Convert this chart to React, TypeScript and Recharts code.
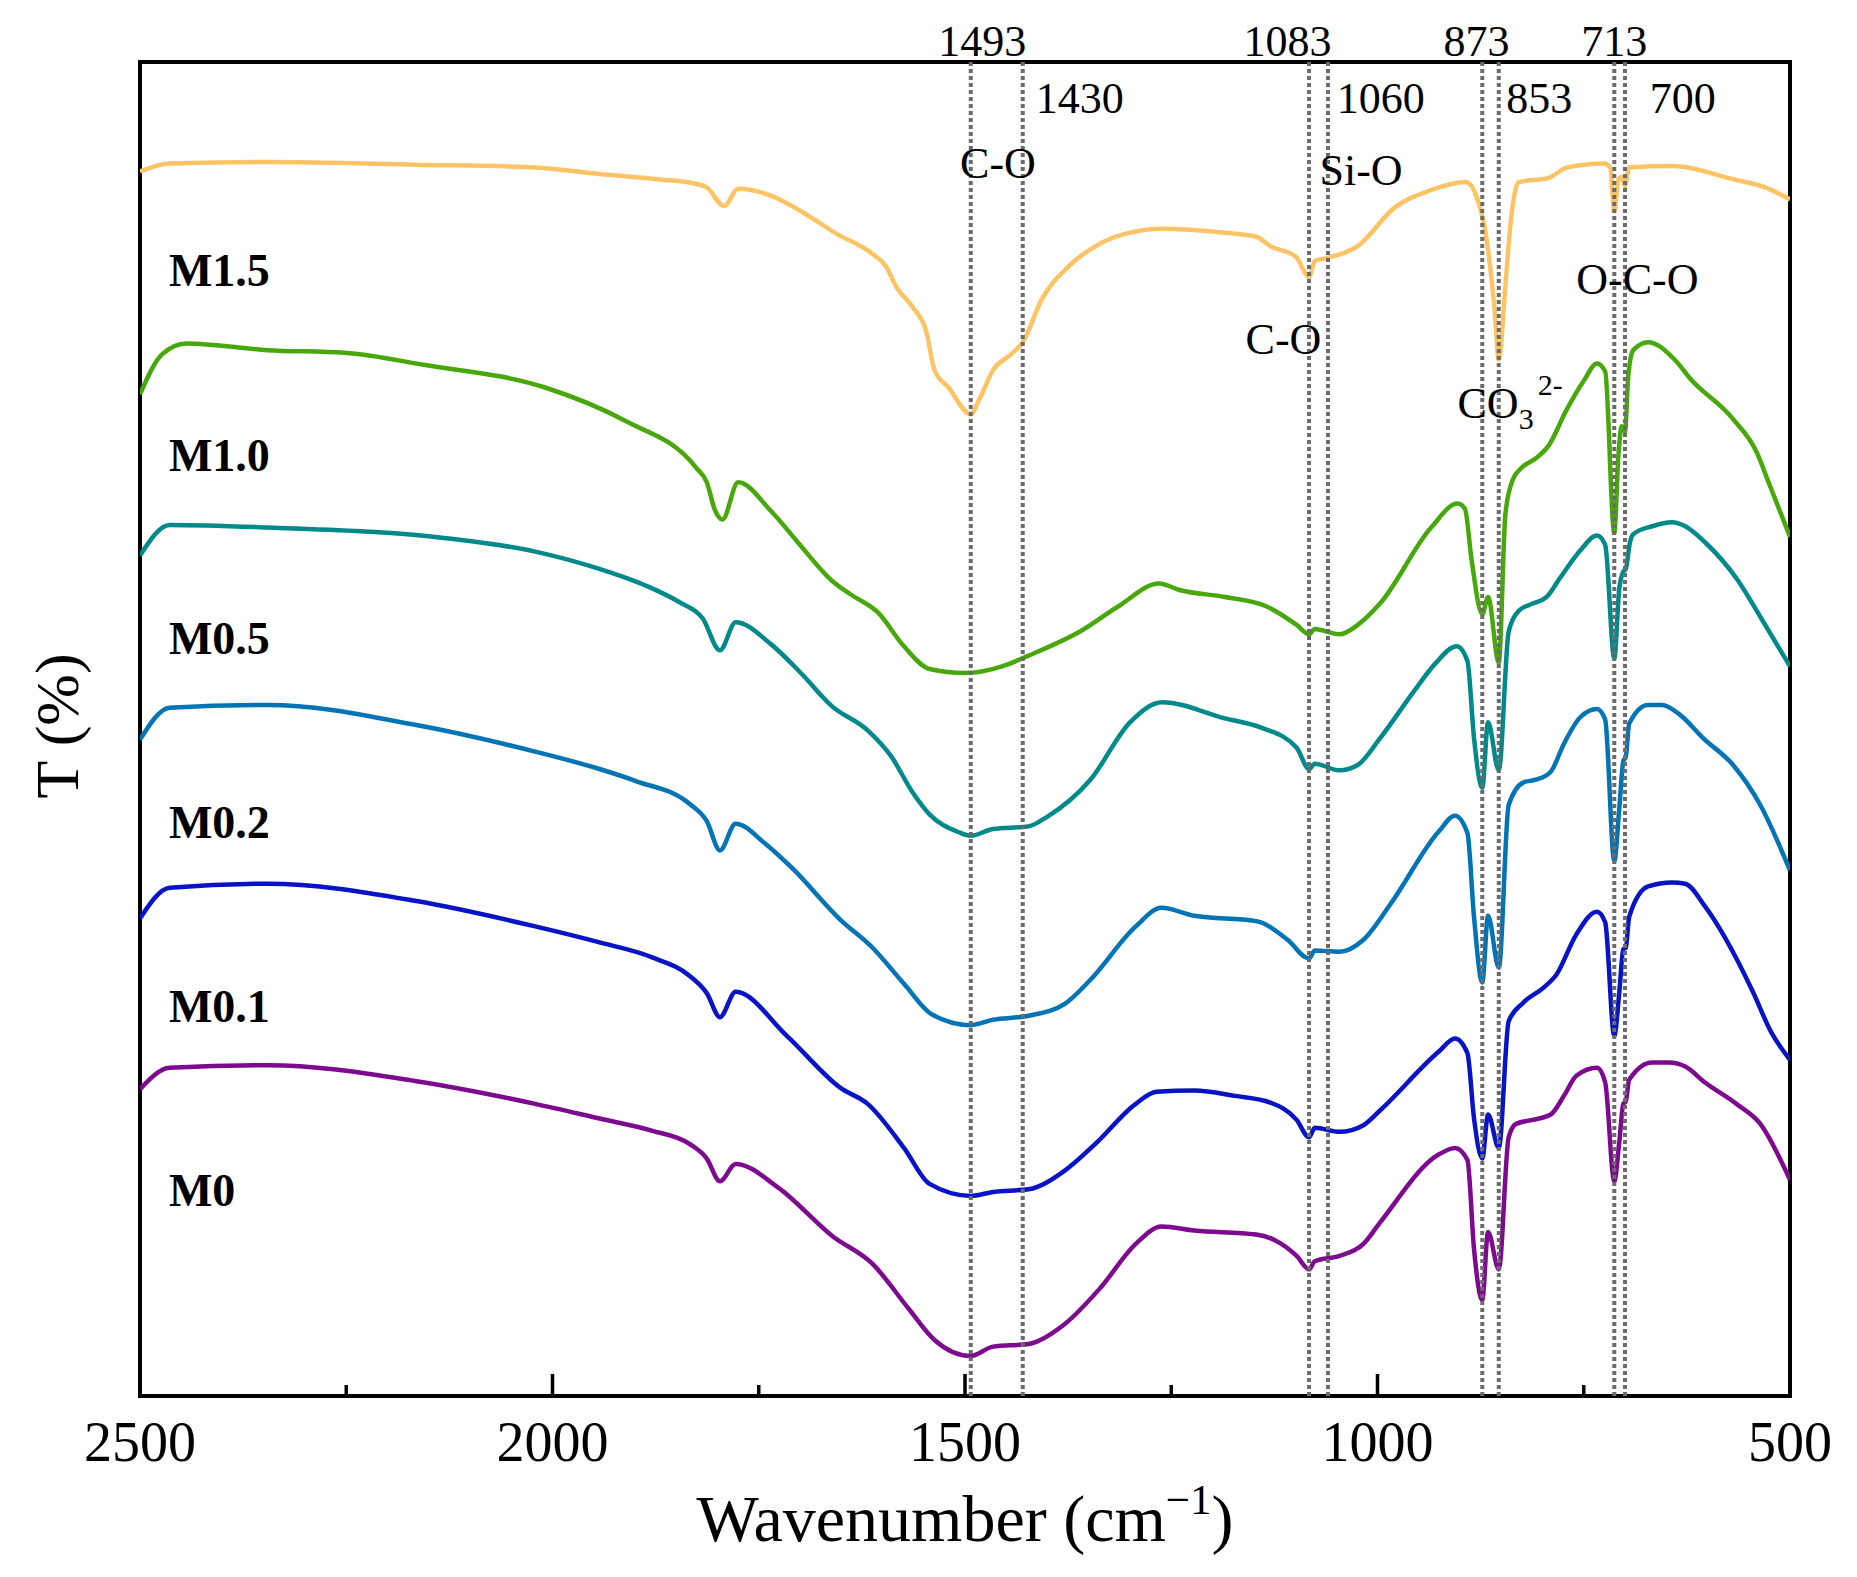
import {
  LineChart,
  Line,
  XAxis,
  YAxis,
  ReferenceLine,
  ReferenceArea,
  ReferenceDot,
} from 'recharts';

const SERIF = '"Liberation Serif", "Times New Roman", serif';

// [wavenumber (cm-1), T (%)], offsets included
const M15 = [
  [2500, 91.8], [2464, 92.4], [2345, 92.5], [2165, 92.3], [2021, 92.1], [1943, 91.6],
  [1870, 91.2], [1829, 90.9], [1813, 90.6], [1792, 89.2], [1775, 90.5], [1736, 90.0],
  [1704, 89.0], [1655, 87.1], [1612, 85.6], [1596, 84.7], [1583, 83.1], [1563, 81.6],
  [1547, 79.8], [1537, 76.9], [1520, 75.6], [1493, 73.6], [1482, 74.8], [1466, 76.9],
  [1444, 78.1], [1430, 79.0], [1407, 82.2], [1374, 84.7], [1336, 86.4], [1293, 87.3],
  [1265, 87.5], [1185, 87.2], [1147, 86.9], [1130, 86.2], [1099, 85.4], [1083, 83.9],
  [1076, 85.1], [1062, 85.3], [1024, 86.2], [979, 89.1], [935, 90.4], [893, 91.0],
  [880, 89.9], [868, 86.8], [858, 81.4], [853, 77.7], [845, 83.2], [839, 87.7],
  [829, 91.0], [793, 91.3], [770, 92.1], [725, 92.4], [718, 92.1], [713, 88.8],
  [708, 91.2], [704, 91.4], [700, 90.7], [695, 92.1], [643, 92.2], [568, 91.2],
  [530, 90.6], [500, 89.7],
];

const M10 = [
  [2500, 75.1], [2473, 78.1], [2444, 78.9], [2345, 78.4], [2252, 78.2], [2156, 77.3],
  [2009, 75.6], [1912, 73.1], [1826, 69.6], [1813, 68.5], [1803, 66.4], [1794, 65.7],
  [1775, 68.5], [1736, 66.4], [1704, 64.1], [1661, 61.1], [1639, 60.1], [1605, 58.7],
  [1574, 56.2], [1543, 54.5], [1500, 54.2], [1455, 54.7], [1423, 55.5], [1358, 57.4],
  [1314, 59.2], [1265, 60.9], [1239, 60.4], [1185, 59.9], [1135, 59.2], [1098, 57.8],
  [1083, 57.1], [1076, 57.5], [1046, 57.1], [1024, 57.8], [997, 59.4], [935, 65.1],
  [903, 66.9], [894, 66.5], [886, 62.7], [873, 58.6], [866, 59.9], [853, 55.0],
  [845, 66.1], [836, 68.7], [825, 69.6], [808, 70.3], [793, 71.2], [771, 73.9],
  [750, 76.1], [734, 77.4], [724, 76.8], [713, 64.7], [708, 70.5], [704, 72.7],
  [700, 72.3], [696, 76.5], [690, 78.4], [672, 79.0], [640, 77.7], [620, 76.2],
  [570, 73.3], [540, 70.7], [526, 68.5], [500, 64.4],
];

const M05 = [
  [2500, 63.0], [2464, 65.3], [2345, 65.1], [2129, 64.3], [2021, 63.3], [1943, 62.0],
  [1885, 60.7], [1846, 59.5], [1818, 58.3], [1797, 55.9], [1778, 58.0], [1736, 56.4],
  [1699, 54.2], [1661, 51.7], [1618, 49.9], [1590, 48.0], [1563, 45.2], [1543, 43.6],
  [1509, 42.3], [1493, 42.0], [1466, 42.5], [1423, 42.7], [1401, 43.4], [1348, 46.2],
  [1300, 50.5], [1261, 52.0], [1185, 50.8], [1141, 50.1], [1098, 48.6], [1083, 47.0],
  [1076, 47.4], [1046, 46.9], [1024, 47.3], [997, 49.3], [955, 52.9], [930, 54.9],
  [904, 56.2], [891, 55.1], [883, 49.3], [873, 45.6], [866, 50.5], [853, 46.9],
  [841, 57.3], [828, 58.9], [812, 59.4], [795, 59.9], [779, 61.3], [754, 63.4],
  [734, 64.5], [724, 63.8], [713, 55.3], [707, 60.5], [702, 61.8], [699, 62.0],
  [694, 64.0], [690, 64.6], [667, 65.2], [643, 65.5], [627, 65.2], [603, 64.0],
  [565, 61.3], [532, 58.0], [500, 54.7],
];

const M02 = [
  [2500, 49.2], [2464, 51.6], [2345, 51.8], [2165, 50.3], [2021, 48.3], [1943, 47.0],
  [1899, 46.1], [1834, 44.4], [1813, 43.1], [1797, 40.9], [1778, 42.9], [1742, 41.4],
  [1710, 39.6], [1651, 35.7], [1612, 33.6], [1574, 30.9], [1540, 28.6], [1493, 27.8],
  [1466, 28.2], [1423, 28.5], [1379, 29.4], [1348, 31.2], [1293, 35.2], [1262, 36.6],
  [1222, 36.0], [1147, 35.6], [1109, 34.2], [1083, 32.8], [1076, 33.4], [1046, 33.3],
  [1017, 34.2], [984, 36.9], [926, 42.3], [906, 43.5], [891, 42.2], [883, 35.9],
  [873, 31.0], [866, 36.0], [853, 32.1], [841, 44.3], [823, 46.0], [808, 46.2],
  [790, 46.8], [774, 48.9], [754, 50.9], [734, 51.5], [724, 50.7], [713, 40.1],
  [707, 44.0], [702, 47.6], [699, 47.9], [695, 50.4], [672, 51.8], [655, 51.8],
  [634, 51.1], [605, 49.3], [569, 47.3], [536, 44.3], [500, 39.4],
];

const M01 = [
  [2500, 35.8], [2464, 38.1], [2345, 38.4], [2165, 37.1], [2021, 35.2], [1943, 34.0],
  [1880, 32.9], [1834, 31.5], [1813, 30.2], [1797, 28.4], [1778, 30.3], [1716, 27.0],
  [1651, 23.1], [1618, 21.9], [1574, 18.6], [1543, 15.9], [1493, 15.0], [1466, 15.3],
  [1423, 15.5], [1379, 16.9], [1342, 18.9], [1293, 21.9], [1268, 22.8], [1222, 22.9],
  [1173, 22.5], [1130, 22.0], [1098, 20.7], [1083, 19.4], [1076, 20.1], [1046, 19.8],
  [1017, 20.3], [997, 21.4], [926, 25.8], [906, 26.8], [891, 25.7], [883, 20.8],
  [873, 17.8], [866, 21.1], [853, 18.6], [841, 28.1], [823, 29.5], [799, 30.6],
  [783, 31.6], [759, 34.6], [734, 36.3], [724, 35.5], [713, 27.0], [707, 30.2],
  [702, 33.5], [699, 33.6], [695, 35.9], [672, 38.2], [643, 38.5], [627, 38.4],
  [603, 36.7], [565, 32.8], [545, 30.3], [523, 27.3], [500, 25.2],
];

const M0 = [
  [2500, 23.0], [2464, 24.6], [2345, 24.8], [2165, 23.6], [2021, 21.9], [1943, 20.8],
  [1880, 19.9], [1834, 18.9], [1813, 17.8], [1797, 16.1], [1778, 17.4], [1726, 15.6],
  [1661, 12.0], [1612, 9.9], [1569, 6.6], [1537, 4.2], [1493, 3.0], [1466, 3.7],
  [1423, 3.9], [1379, 5.4], [1336, 8.1], [1293, 11.4], [1262, 12.7], [1222, 12.4],
  [1147, 12.1], [1125, 11.7], [1098, 10.5], [1083, 9.5], [1076, 10.1], [1046, 10.5],
  [1017, 11.4], [997, 13.0], [926, 18.1], [906, 18.6], [891, 17.7], [883, 11.0],
  [873, 7.2], [866, 12.3], [853, 9.5], [841, 19.4], [832, 20.4], [812, 20.7],
  [790, 21.1], [774, 22.5], [759, 24.0], [734, 24.6], [724, 23.5], [713, 16.1],
  [707, 19.0], [702, 21.9], [699, 22.1], [695, 23.7], [667, 25.0], [647, 25.0],
  [627, 24.7], [603, 23.5], [565, 21.9], [536, 20.4], [500, 16.2],
];

const SERIES = [
  { name: 'M1.5', points: M15, color: '#FDC466' },
  { name: 'M1.0', points: M10, color: '#48A80B' },
  { name: 'M0.5', points: M05, color: '#00898A' },
  { name: 'M0.2', points: M02, color: '#0074B5' },
  { name: 'M0.1', points: M01, color: '#0713C6' },
  { name: 'M0', points: M0, color: '#7D0A8E' },
];

const X_TICKS = [2500, 2250, 2000, 1750, 1500, 1250, 1000, 750, 500];
const MAJOR_TICKS = [2500, 2000, 1500, 1000, 500];

const PEAK_LINES = [1493, 1430, 1083, 1060, 873, 853, 713, 700];

// text centre positions in data units
const PEAK_LABELS = [
  { text: '1493', wn: 1479, t: 101.5 },
  { text: '1083', wn: 1109, t: 101.5 },
  { text: '873', wn: 880, t: 101.5 },
  { text: '713', wn: 713, t: 101.5 },
  { text: '1430', wn: 1361, t: 97.3 },
  { text: '1060', wn: 996, t: 97.3 },
  { text: '853', wn: 804, t: 97.3 },
  { text: '700', wn: 630, t: 97.3 },
];

const BOND_LABELS = [
  { text: 'C-O', wn: 1460, t: 92.4 },
  { text: 'Si-O', wn: 1020, t: 91.9 },
  { text: 'C-O', wn: 1114, t: 79.2 },
  { text: 'O-C-O', wn: 685, t: 83.7 },
];

const CARBONATE = { wn: 903, t: 74.4 };

const SAMPLE_LABELS = [
  { text: 'M1.5', t: 84.4 },
  { text: 'M1.0', t: 70.5 },
  { text: 'M0.5', t: 56.8 },
  { text: 'M0.2', t: 43.0 },
  { text: 'M0.1', t: 29.2 },
  { text: 'M0', t: 15.4 },
];
const SAMPLE_LABEL_WN = 2465;

function XTick(props: any) {
  const { x, y, payload } = props;
  const major = MAJOR_TICKS.includes(payload.value);
  return (
    <g>
      <line x1={x} x2={x} y1={y} y2={y - (major ? 22 : 11)} stroke="#000" strokeWidth={3.5} />
      {major && (
        <text x={x} y={y + 65} textAnchor="middle" fontSize={56} fontFamily={SERIF} fill="#000">
          {payload.value}
        </text>
      )}
    </g>
  );
}

function XTitle(props: any) {
  const vb = props.viewBox || { x: 140, y: 1396, width: 1650, height: 120 };
  return (
    <text
      x={vb.x + vb.width / 2}
      y={vb.y + 145}
      textAnchor="middle"
      fontSize={66}
      fontFamily={SERIF}
      fill="#000"
    >
      Wavenumber (cm
      <tspan dy={-27} fontSize={43}>−1</tspan>
      <tspan dy={27}>)</tspan>
    </text>
  );
}

function YTitle(props: any) {
  const vb = props.viewBox || { x: 0, y: 62, width: 140, height: 1334 };
  const cx = vb.x + 57;
  const cy = vb.y + vb.height / 2 - 3;
  return (
    <text
      x={cx}
      y={cy}
      transform={`rotate(-90 ${cx} ${cy})`}
      textAnchor="middle"
      dominantBaseline="central"
      fontSize={62}
      fontFamily={SERIF}
      fill="#000"
    >
      T (%)
    </text>
  );
}

function textShape(text: string, size: number, weight: string, anchor: string) {
  return (p: any) => (
    <text
      x={p.cx}
      y={p.cy}
      textAnchor={anchor}
      dominantBaseline="central"
      fontSize={size}
      fontWeight={weight}
      fontFamily={SERIF}
      fill="#000"
    >
      {text}
    </text>
  );
}

function carbonateShape(p: any) {
  return (
    <text x={p.cx} y={p.cy} dominantBaseline="central" fontSize={44} fontFamily={SERIF} fill="#000">
      CO
      <tspan dy={14} fontSize={30}>3</tspan>
      <tspan dy={-34} dx={4} fontSize={30}>2-</tspan>
    </text>
  );
}

export default function App() {
  return (
    <div style={{ position: 'absolute', left: 0, top: 0, width: 1857, height: 1577, background: '#fff' }}>
      <LineChart width={1857} height={1577} margin={{ top: 62, right: 67, bottom: 61, left: 0 }}>
        <XAxis
          type="number"
          dataKey="wn"
          domain={[500, 2500]}
          reversed
          allowDataOverflow
          ticks={X_TICKS}
          interval={0}
          tickSize={0}
          tickMargin={0}
          axisLine={false}
          tickLine={false}
          height={120}
          tick={<XTick />}
          label={XTitle}
        />
        <YAxis
          type="number"
          domain={[0, 100]}
          allowDataOverflow
          width={140}
          tick={false}
          tickLine={false}
          axisLine={false}
          label={YTitle}
        />
        {SERIES.map((s) => (
          <Line
            key={s.name}
            data={s.points.map(([wn, t]) => ({ wn, t }))}
            dataKey="t"
            type="monotone"
            stroke={s.color}
            strokeWidth={4.5}
            dot={false}
            activeDot={false}
            isAnimationActive={false}
          />
        ))}
        {PEAK_LINES.map((wn) => (
          <ReferenceLine
            key={`line-${wn}`}
            x={wn}
            stroke="#6b6b6b"
            strokeWidth={4}
            strokeDasharray="4 3"
          />
        ))}
        {PEAK_LABELS.map((l) => (
          <ReferenceDot
            key={`peak-${l.text}`}
            x={l.wn}
            y={l.t}
            r={0}
            ifOverflow="visible"
            shape={textShape(l.text, 44, 'normal', 'middle')}
          />
        ))}
        {BOND_LABELS.map((l, i) => (
          <ReferenceDot
            key={`bond-${i}`}
            x={l.wn}
            y={l.t}
            r={0}
            ifOverflow="visible"
            shape={textShape(l.text, 44, 'normal', 'middle')}
          />
        ))}
        <ReferenceDot x={CARBONATE.wn} y={CARBONATE.t} r={0} ifOverflow="visible" shape={carbonateShape} />
        {SAMPLE_LABELS.map((l) => (
          <ReferenceDot
            key={`sample-${l.text}`}
            x={SAMPLE_LABEL_WN}
            y={l.t}
            r={0}
            ifOverflow="visible"
            shape={textShape(l.text, 46, 'bold', 'start')}
          />
        ))}
        <ReferenceArea
          x1={2500}
          x2={500}
          y1={0}
          y2={100}
          fill="none"
          stroke="#000"
          strokeWidth={4}
          ifOverflow="visible"
        />
      </LineChart>
    </div>
  );
}
